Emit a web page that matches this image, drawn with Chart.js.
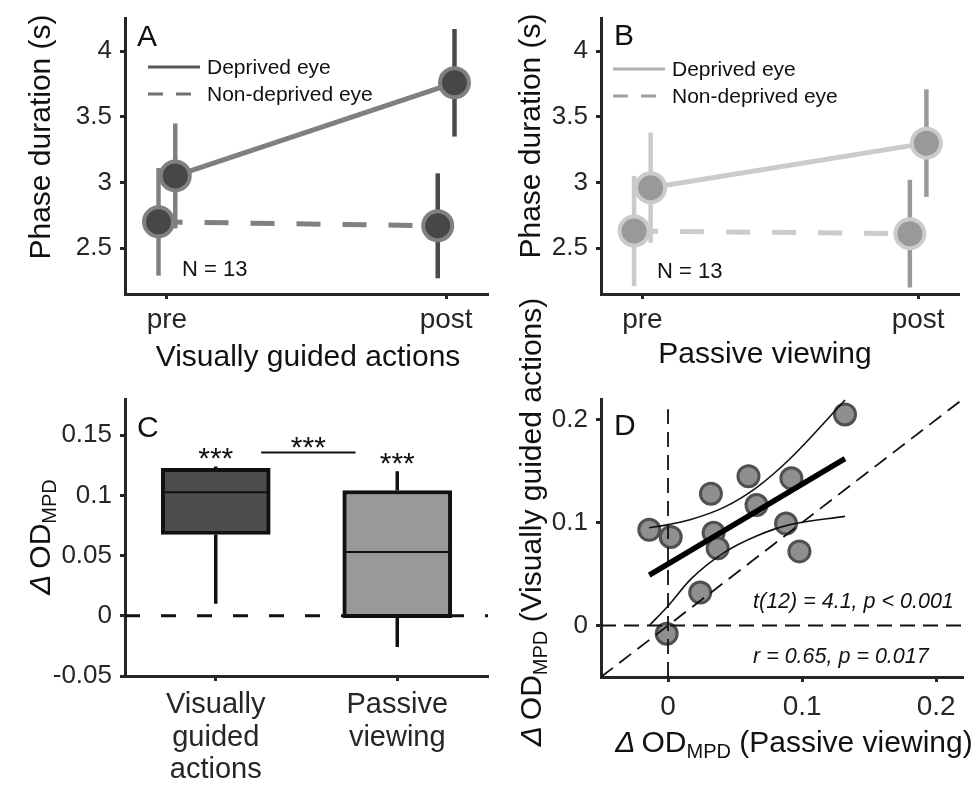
<!DOCTYPE html>
<html>
<head>
<meta charset="utf-8">
<title>Phase duration and ocular dominance</title>
<script src="https://cdn.jsdelivr.net/npm/chart.js@4.4.1/dist/chart.umd.min.js"></script>
<style>
  html, body { margin: 0; padding: 0; background: #fff; }
  #wrap { position: relative; width: 978px; height: 792px; }
  #wrap canvas { position: absolute; left: 0; top: 0; }
</style>
</head>
<body>
<div id="wrap">
  <canvas id="panelA" width="978" height="792"></canvas>
  <canvas id="panelB" width="978" height="792"></canvas>
  <canvas id="panelC" width="978" height="792"></canvas>
  <canvas id="panelD" width="978" height="792"></canvas>
</div>
<script>
// ---- data ----
const phaseLabels = ['pre', 'post'];
const phaseTicks = [2.5, 3, 3.5, 4];

const actDeprivedMean = [3.05, 3.76];
const actDeprivedSd = [0.40, 0.41];
const actNonDeprivedMean = [2.70, 2.67];
const actNonDeprivedSd = [0.41, 0.40];

const passDeprivedMean = [2.96, 3.30];
const passDeprivedSd = [0.42, 0.41];
const passNonDeprivedMean = [2.63, 2.61];
const passNonDeprivedSd = [0.42, 0.41];

const conditionLabels = [['Visually', 'guided', 'actions'], ['Passive', 'viewing']];
const odTicks = [-0.05, 0, 0.05, 0.1, 0.15];
const boxWhiskerLow = [0.010, -0.026];
const boxQ1 = [0.0675, -0.0015];
const boxMedian = [0.1025, 0.053];
const boxQ3 = [0.1225, 0.104];
const boxWhiskerHigh = [0.124, 0.120];

const scatterTicks = [0, 0.1, 0.2];
const odPassive = [0.132, 0.060, 0.092, 0.032, 0.066, -0.014, 0.002, 0.034, 0.037, 0.088, 0.098, 0.024, -0.001];
const odActions = [0.205, 0.145, 0.143, 0.128, 0.117, 0.093, 0.086, 0.090, 0.075, 0.099, 0.072, 0.032, -0.008];
const fitX = [-0.014, 0.132];
const fitY = [0.049, 0.162];
const bandX = [-0.014, 0.0, 0.017, 0.042, 0.066, 0.091, 0.132];
const bandUpper = [0.095, 0.098, 0.103, 0.115, 0.134, 0.162, 0.219];
const bandLower = [0.000, 0.019, 0.045, 0.071, 0.087, 0.098, 0.106];

// ---- style ----
const FONT = "'Liberation Sans', Arial, Helvetica, sans-serif";
const AXIS = '#262626';
const INK = '#111111';
const DODGE = 0.03;
const Y_AXIS_W = 100;
const X_AXIS_H = 115;
const LABEL_SIZE = 30;

function font(size, style) {
    return (style ? style + ' ' : '') + size + 'px ' + FONT;
}

// draws a row of text pieces (with optional subscript) centred or left aligned
function richText(ctx, parts, x, y, opts = {}) {
    ctx.save();
    ctx.translate(x, y);
    if (opts.rotate) ctx.rotate(-Math.PI / 2);
    ctx.textBaseline = 'alphabetic';
    ctx.textAlign = 'left';
    ctx.fillStyle = opts.color || INK;
    let total = 0;
    parts.forEach(p => {
        ctx.font = font(p.size, p.italic ? 'italic' : '');
        p.w = ctx.measureText(p.text).width;
        total += p.w;
    });
    let cx = opts.align === 'left' ? 0 : -total / 2;
    parts.forEach(p => {
        ctx.font = font(p.size, p.italic ? 'italic' : '');
        ctx.fillText(p.text, cx, p.dy || 0);
        cx += p.w;
    });
    ctx.restore();
}

function text(ctx, s, x, y, size, opts = {}) {
    richText(ctx, [{ text: s, size, italic: opts.italic }], x, y, opts);
}

function odParts(size, rest) {
    return [
        { text: '\u0394', size, italic: true },
        { text: '\u2009OD', size },
        { text: 'MPD', size: Math.round(size * 0.68), dy: 6 },
        { text: rest, size }
    ];
}

function yScale(min, max, ticks) {
    return {
        type: 'linear', position: 'left', min, max,
        afterBuildTicks: s => { s.ticks = ticks.map(v => ({ value: v })); },
        afterFit: s => { s.width = Y_AXIS_W; s.paddingTop = s.paddingBottom = s.paddingLeft = s.paddingRight = 0; },
        border: { display: true, color: AXIS, width: 3 },
        grid: { display: true, drawOnChartArea: false, drawTicks: true, tickLength: 5, tickWidth: 3, tickColor: AXIS },
        ticks: { font: { family: FONT, size: 26 }, color: AXIS, padding: 8, callback: v => String(v) }
    };
}

function xScale(min, max, ticks, labelFn, tickFont, pad) {
    return {
        type: 'linear', position: 'bottom', min, max,
        offset: false,
        afterBuildTicks: s => { s.ticks = ticks.map(v => ({ value: v })); },
        afterFit: s => { s.height = X_AXIS_H; s.paddingTop = s.paddingBottom = s.paddingLeft = s.paddingRight = 0; },
        border: { display: true, color: AXIS, width: 3 },
        grid: { display: true, offset: false, drawOnChartArea: false, drawTicks: true, tickLength: 5, tickWidth: 3, tickColor: AXIS },
        ticks: { font: tickFont, color: AXIS, padding: pad, autoSkip: false, maxRotation: 0, callback: labelFn }
    };
}

// chart area is given in page pixels; every canvas covers the whole page
function areaPadding(left, top, right, bottom) {
    return { left: left - Y_AXIS_W, top, right: 978 - right, bottom: 792 - bottom - X_AXIS_H };
}

function baseOptions(padding, scales, pluginOpts) {
    return {
        responsive: false,
        animation: false,
        events: [],
        layout: { padding },
        plugins: Object.assign({ legend: { display: false }, tooltip: { enabled: false } }, pluginOpts || {}),
        scales
    };
}

const annotate = draw => ({ id: 'annotate', afterDraw: chart => draw(chart.ctx, chart) });

// vertical sd bars under the markers, colour by session
const errorBars = {
    id: 'errorBars',
    beforeDatasetsDraw(chart, args, opts) {
        const { ctx, scales: { x, y } } = chart;
        ctx.save();
        ctx.lineWidth = 4.5;
        chart.data.datasets.forEach(ds => {
            ds.data.forEach((p, i) => {
                const px = x.getPixelForValue(p.x);
                ctx.strokeStyle = opts.colors[i];
                ctx.beginPath();
                ctx.moveTo(px, y.getPixelForValue(p.y - ds.sd[i]));
                ctx.lineTo(px, y.getPixelForValue(p.y + ds.sd[i]));
                ctx.stroke();
            });
        });
        ctx.restore();
    }
};

function phaseDataset(label, mean, sd, dodge, dashed, st) {
    return {
        label,
        data: mean.map((m, i) => ({ x: i + 1 + dodge, y: m })),
        sd,
        borderColor: st.line,
        borderWidth: 5,
        borderDash: dashed ? [24, 22] : [],
        pointRadius: 14.5,
        pointBorderWidth: 4,
        pointBackgroundColor: st.fill,
        pointBorderColor: st.line,
        tension: 0
    };
}

function drawLegend(ctx, x0, yTop, st) {
    ctx.save();
    ctx.lineWidth = 3;
    ctx.strokeStyle = st.legendSolid;
    ctx.beginPath(); ctx.moveTo(x0, yTop); ctx.lineTo(x0 + 52, yTop); ctx.stroke();
    ctx.strokeStyle = st.legendDash;
    ctx.setLineDash([15, 13]);
    ctx.beginPath(); ctx.moveTo(x0, yTop + 27); ctx.lineTo(x0 + 52, yTop + 27); ctx.stroke();
    ctx.restore();
    text(ctx, 'Deprived eye', x0 + 59, yTop + 7, 21, { align: 'left' });
    text(ctx, 'Non-deprived eye', x0 + 59, yTop + 34, 21, { align: 'left' });
}

function phaseChart(id, dep, depSd, non, nonSd, st, padding, draw) {
    return new Chart(document.getElementById(id), {
        type: 'line',
        data: {
            datasets: [
                phaseDataset('Deprived eye', dep, depSd, DODGE, false, st),
                phaseDataset('Non-deprived eye', non, nonSd, -DODGE, true, st)
            ]
        },
        options: baseOptions(padding, {
            x: xScale(0.85, 2.15, [1, 2], v => phaseLabels[v - 1], { family: FONT, size: 28 }, 4.5),
            y: yScale(2.15, 4.25, phaseTicks)
        }, { errorBars: { colors: st.bars } }),
        plugins: [errorBars, annotate(draw)]
    });
}

const styleA = { line: '#808080', fill: '#474747', bars: ['#808080', '#4a4a4a'], legendSolid: '#595959', legendDash: '#707070' };
const styleB = { line: '#cbcbcb', fill: '#999999', bars: ['#cbcbcb', '#999999'], legendSolid: '#b0b0b0', legendDash: '#a0a0a0' };

phaseChart('panelA', actDeprivedMean, actDeprivedSd, actNonDeprivedMean, actNonDeprivedSd, styleA,
    areaPadding(125, 15, 488, 294),
    ctx => {
        text(ctx, 'A', 137, 46, 30, { align: 'left' });
        drawLegend(ctx, 148, 67, styleA);
        text(ctx, 'N = 13', 182, 276, 22, { align: 'left' });
        text(ctx, 'Phase duration (s)', 50, 137, LABEL_SIZE, { rotate: true });
        text(ctx, 'Visually guided actions', 308, 366, LABEL_SIZE);
    });

phaseChart('panelB', passDeprivedMean, passDeprivedSd, passNonDeprivedMean, passNonDeprivedSd, styleB,
    areaPadding(601, 15, 963, 294),
    ctx => {
        text(ctx, 'B', 614, 45, 30, { align: 'left' });
        drawLegend(ctx, 613, 69, styleB);
        text(ctx, 'N = 13', 657, 278, 22, { align: 'left' });
        text(ctx, 'Phase duration (s)', 540, 136, LABEL_SIZE, { rotate: true });
        text(ctx, 'Passive viewing', 765, 363, LABEL_SIZE);
    });

// ---- panel C: box plot ----
new Chart(document.getElementById('panelC'), {
    type: 'bar',
    data: {
        datasets: [
            {
                label: 'IQR',
                data: boxQ1.map((q, i) => ({ x: i + 1, y: [q, boxQ3[i]] })),
                backgroundColor: ['#4d4d4d', '#999999'],
                borderColor: INK,
                borderWidth: 4,
                borderSkipped: false,
                barThickness: 109,
                order: 2
            },
            {
                type: 'line',
                label: 'zero',
                data: [{ x: 0.5, y: 0 }, { x: 2.5, y: 0 }],
                borderColor: INK,
                borderWidth: 3,
                borderDash: [15, 21],
                pointRadius: 0,
                order: 0
            }
        ]
    },
    options: baseOptions(areaPadding(125, 399, 488, 676), {
        x: xScale(0.5, 2.5, [1, 2], v => conditionLabels[v - 1], { family: FONT, size: 29, lineHeight: 1.13 }, 7.5),
        y: yScale(-0.05, 0.18, odTicks)
    }),
    plugins: [{
        id: 'whiskers',
        afterDatasetsDraw(chart) {
            const { ctx, scales: { x, y } } = chart;
            ctx.save();
            ctx.strokeStyle = INK;
            boxMedian.forEach((m, i) => {
                const cx = x.getPixelForValue(i + 1);
                const half = (x.getPixelForValue(1.3) - x.getPixelForValue(1)) - 2;
                ctx.lineWidth = 3.5;
                ctx.beginPath();
                ctx.moveTo(cx, y.getPixelForValue(boxQ3[i]));
                ctx.lineTo(cx, y.getPixelForValue(boxWhiskerHigh[i]));
                ctx.moveTo(cx, y.getPixelForValue(boxQ1[i]));
                ctx.lineTo(cx, y.getPixelForValue(boxWhiskerLow[i]));
                ctx.stroke();
                ctx.lineWidth = 2;
                ctx.beginPath();
                ctx.moveTo(cx - half, y.getPixelForValue(m));
                ctx.lineTo(cx + half, y.getPixelForValue(m));
                ctx.stroke();
            });
            ctx.restore();
        }
    }, annotate((ctx, chart) => {
        const { x, y } = chart.scales;
        text(ctx, 'C', 137, 437, 30, { align: 'left' });
        boxWhiskerHigh.forEach((h, i) => {
            text(ctx, '***', x.getPixelForValue(i + 1), y.getPixelForValue(h) + 2, 30);
        });
        const by = Math.min(...boxWhiskerHigh.map(h => y.getPixelForValue(h))) - 14;
        ctx.save();
        ctx.strokeStyle = INK;
        ctx.lineWidth = 2;
        ctx.beginPath();
        ctx.moveTo(x.getPixelForValue(1.25), by);
        ctx.lineTo(x.getPixelForValue(1.77), by);
        ctx.stroke();
        ctx.restore();
        text(ctx, '***', x.getPixelForValue(1.51), by + 5, 30);
        richText(ctx, odParts(LABEL_SIZE, ''), 50, 537, { rotate: true });
    })]
});

// ---- panel D: scatter with fit ----
const refDash = { borderColor: INK, borderWidth: 1.8, borderDash: [15, 8], pointRadius: 0, order: 1 };
new Chart(document.getElementById('panelD'), {
    type: 'scatter',
    data: {
        datasets: [
            {
                label: 'observers',
                data: odPassive.map((v, i) => ({ x: v, y: odActions[i] })),
                pointRadius: 10.5,
                pointBorderWidth: 3,
                pointBackgroundColor: '#8f8f8f',
                pointBorderColor: '#505050',
                order: 10
            },
            Object.assign({ type: 'line', label: 'identity', data: [{ x: -0.05, y: -0.05 }, { x: 0.22, y: 0.22 }] }, refDash),
            Object.assign({ type: 'line', label: 'x = 0', data: [{ x: 0, y: -0.05 }, { x: 0, y: 0.21 }] }, refDash),
            Object.assign({ type: 'line', label: 'y = 0', data: [{ x: -0.05, y: 0 }, { x: 0.22, y: 0 }] }, refDash),
            {
                type: 'line', label: 'upper band',
                data: bandX.map((v, i) => ({ x: v, y: bandUpper[i] })),
                borderColor: INK, borderWidth: 1.6, pointRadius: 0, cubicInterpolationMode: 'monotone', order: 0
            },
            {
                type: 'line', label: 'lower band',
                data: bandX.map((v, i) => ({ x: v, y: bandLower[i] })),
                borderColor: INK, borderWidth: 1.6, pointRadius: 0, cubicInterpolationMode: 'monotone', order: 0
            },
            {
                type: 'line', label: 'fit',
                data: fitX.map((v, i) => ({ x: v, y: fitY[i] })),
                borderColor: '#000', borderWidth: 5.5, pointRadius: 0, order: 0
            }
        ]
    },
    options: baseOptions(areaPadding(601, 399, 963, 677), {
        x: xScale(-0.05, 0.22, scatterTicks, v => String(v), { family: FONT, size: 28 }, 8.5),
        y: yScale(-0.05, 0.22, scatterTicks)
    }),
    plugins: [annotate(ctx => {
        text(ctx, 'D', 614, 435, 30, { align: 'left' });
        text(ctx, 't(12) = 4.1, p < 0.001', 753, 608, 21.5, { align: 'left', italic: true });
        text(ctx, 'r = 0.65, p = 0.017', 753, 663, 21.5, { align: 'left', italic: true });
        richText(ctx, odParts(LABEL_SIZE, ' (Visually guided actions)'), 541, 522, { rotate: true });
        richText(ctx, odParts(LABEL_SIZE, ' (Passive viewing)'), 794, 752);
    })]
});
</script>
</body>
</html>
